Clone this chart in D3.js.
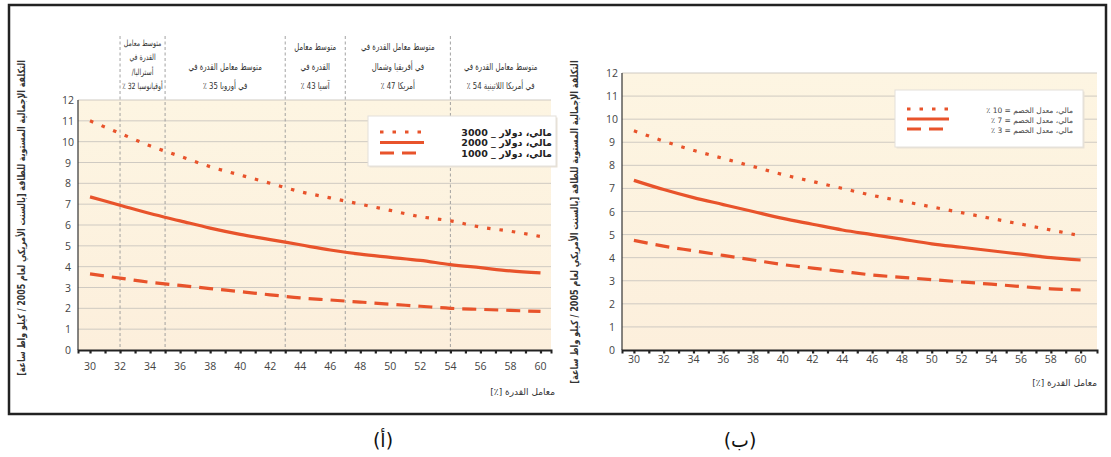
<!DOCTYPE html>
<html><head><meta charset="utf-8">
<script src="https://cdn.jsdelivr.net/npm/d3@7"></script>
<style>
html,body{margin:0;padding:0;background:#fff;}
svg{display:block;font-family:"DejaVu Sans",sans-serif;}
</style></head>
<body><svg id="c" width="1111" height="457"></svg>
<script>
// ---- data ----
const capacityFactors = [30,32,34,36,38,40,42,44,46,48,50,52,54,56,58,60];
// chart (أ): cost by capital cost
const leftSeriesNames = ["مالي، دولار _ 3000","مالي، دولار _ 2000","مالي، دولار _ 1000"];
const left3000 = [11.0,10.4,9.8,9.3,8.8,8.4,8.0,7.6,7.3,7.0,6.7,6.4,6.2,5.9,5.7,5.45];
const left2000 = [7.35,6.95,6.55,6.2,5.85,5.55,5.3,5.05,4.8,4.6,4.45,4.3,4.1,3.95,3.8,3.7];
const left1000 = [3.65,3.45,3.25,3.1,2.95,2.8,2.65,2.5,2.4,2.3,2.2,2.1,2.0,1.95,1.9,1.85];
// chart (ب): cost by discount rate
const rightSeriesNames = ["مالي، معدل الخصم = 10 ٪","مالي، معدل الخصم = 7 ٪","مالي، معدل الخصم = 3 ٪"];
const right10 = [9.5,9.05,8.65,8.3,7.95,7.6,7.3,7.0,6.7,6.45,6.2,5.95,5.7,5.45,5.2,4.95];
const right7  = [7.35,6.95,6.6,6.3,6.0,5.7,5.45,5.2,5.0,4.8,4.6,4.45,4.3,4.15,4.0,3.9];
const right3  = [4.75,4.5,4.3,4.1,3.9,3.7,3.55,3.4,3.25,3.15,3.05,2.95,2.85,2.75,2.65,2.6];
// regional average capacity factors (chart أ)
const regionBounds = [32,35,43,47,54];
const regionLabels = [
  ["متوسط معامل","القدرة في","أستراليا/","أوقيانوسيا 32 ٪"],
  ["متوسط معامل القدرة في","في أوروبا 35 ٪"],
  ["متوسط معامل","القدرة في","آسيا 43 ٪"],
  ["متوسط معامل القدرة في","في أفريقيا وشمال","أمريكا 47 ٪"],
  ["متوسط معامل القدرة في","في أمريكا اللاتينية 54 ٪"]
];
const yTicks = [0,1,2,3,4,5,6,7,8,9,10,11,12];
const xLabelTicks = [30,32,34,36,38,40,42,44,46,48,50,52,54,56,58,60];
const yTitle = "التكلفة الإجمالية المستوية للطاقة [بالسنت الأمريكي لعام 2005 / كيلو واط ساعة]";
const xTitle = "معامل القدرة [٪]";
const panelLabels = ["(أ)","(ب)"];

const svg = d3.select("#c");
const RED = "#e8532b";

// outer frame
svg.append("rect").attr("x",9).attr("y",5).attr("width",1097).attr("height",409)
  .attr("fill","#fff").attr("stroke","#222").attr("stroke-width",2.5);

const defs = svg.append("defs");
const grad = defs.append("linearGradient").attr("id","bg").attr("x1",0).attr("y1",0).attr("x2",0).attr("y2",1);
grad.append("stop").attr("offset","0%").attr("stop-color","#fdf5e2");
grad.append("stop").attr("offset","100%").attr("stop-color","#fcefdc");

const styles = [
  {dash:"3.5,9", w:3.2},
  {dash:null, w:3.2},
  {dash:"14,8", w:3.2}
];

function drawChart(o){
  const g = svg.append("g");
  const x = d3.scaleLinear().domain(o.xDomain).range(o.xRange);
  const y = d3.scaleLinear().domain([0,12]).range(o.yRange);
  g.append("rect").attr("x",o.xRange[0]).attr("y",o.yRange[1])
    .attr("width",o.xRange[1]-o.xRange[0]).attr("height",o.yRange[0]-o.yRange[1])
    .attr("fill","url(#bg)");
  g.append("g").selectAll("line").data(yTicks.filter(d=>d>0)).join("line")
    .attr("x1",o.xRange[0]).attr("x2",o.xRange[1])
    .attr("y1",d=>y(d)).attr("y2",d=>y(d))
    .attr("stroke","#cfcac2").attr("stroke-width",1);
  if(o.regions){
    g.append("g").selectAll("line").data(regionBounds).join("line")
      .attr("x1",d=>x(d)).attr("x2",d=>x(d)).attr("y1",36).attr("y2",o.yRange[0])
      .attr("stroke","#999").attr("stroke-width",0.9).attr("stroke-dasharray","3,2.5");
    const bounds = regionBounds.concat([60.7]);
    regionLabels.forEach((lines,i)=>{
      const cx = (x(bounds[i])+x(bounds[i+1]))/2;
      const n = lines.length;
      const step = n>=4 ? 14.5 : 19.5;
      lines.forEach((t,j)=>{
        g.append("text")
          .attr("transform",`translate(${cx},${89-(n-1-j)*step}) scale(0.72,1)`)
          .attr("text-anchor","middle").attr("direction","rtl")
          .attr("font-size",n>=4?8.6:9.6).attr("fill","#333")
          .text(t);
      });
    });
  }
  // y axis
  g.append("line").attr("x1",o.xRange[0]).attr("x2",o.xRange[0])
    .attr("y1",o.yRange[1]).attr("y2",o.yRange[0]).attr("stroke","#333").attr("stroke-width",1.2);
  g.append("g").selectAll("text").data(yTicks).join("text")
    .attr("x",o.xRange[0]-10).attr("y",d=>y(d)+4)
    .attr("text-anchor","middle").attr("font-size",10.5).attr("fill","#444")
    .attr("font-family","Open Sans").text(d=>d);
  // x axis
  const xa = d3.axisBottom(x).tickValues(d3.range(30,61,1)).tickSize(3.5).tickFormat("");
  const ax = g.append("g").attr("transform",`translate(0,${o.yRange[0]})`).call(xa);
  ax.select(".domain").attr("stroke","#222").attr("stroke-width",2);
  ax.selectAll(".tick line").attr("stroke","#222").attr("stroke-width",2.2);
  g.append("g").selectAll("text").data(xLabelTicks).join("text")
    .attr("x",d=>x(d)).attr("y",o.xLabelY)
    .attr("text-anchor","middle").attr("font-size",10.5).attr("fill","#444")
    .attr("font-family","Open Sans").text(d=>d);
  // x title
  g.append("text").attr("x",o.xTitlePos[0]).attr("y",o.xTitlePos[1])
    .attr("text-anchor","start").attr("direction","rtl").attr("font-size",9).attr("fill","#333")
    .text(xTitle);
  // y title (scaled along its length to fit)
  const yt = g.append("text")
    .attr("text-anchor","middle").attr("direction","rtl").attr("font-size",10)
    .attr("font-weight","bold").attr("fill","#333")
    .text(yTitle);
  const len = yt.node().getComputedTextLength();
  const s = Math.min(1, o.yTitleLen/len);
  yt.attr("transform",`translate(${o.yTitlePos[0]},${o.yTitlePos[1]}) rotate(-90) scale(${s},1)`);
  // lines
  const line = d3.line().x((d,i)=>x(capacityFactors[i])).y(d=>y(d)).curve(d3.curveMonotoneX);
  o.series.forEach((sr,i)=>{
    g.append("path").datum(sr).attr("d",line).attr("fill","none")
      .attr("stroke",RED).attr("stroke-width",styles[i].w)
      .attr("stroke-dasharray",styles[i].dash);
  });
  // legend
  const L = o.legend;
  g.append("rect").attr("x",L.x+1.5).attr("y",L.y+1.5).attr("width",L.w).attr("height",L.h)
    .attr("fill","#e9e2d6");
  g.append("rect").attr("x",L.x).attr("y",L.y).attr("width",L.w).attr("height",L.h)
    .attr("fill","#fff").attr("stroke","#e4e0da").attr("stroke-width",1);
  o.names.forEach((n,i)=>{
    const ly = L.y + L.first + i*L.step;
    g.append("line").attr("x1",L.x+L.lx0).attr("x2",L.x+L.lx1).attr("y1",ly).attr("y2",ly)
      .attr("stroke",RED).attr("stroke-width",styles[i].w).attr("stroke-dasharray",styles[i].dash);
    g.append("text").attr("x",L.x+L.w-L.tr).attr("y",ly+3.5).attr("text-anchor","start")
      .attr("direction","rtl").attr("font-size",L.fs).attr("font-weight",L.fw).attr("fill",L.fc)
      .text(n);
  });
}

drawChart({
  xDomain:[29.2,60.7], xRange:[78,551], yRange:[350,100], xLabelY:370,
  regions:true, series:[left3000,left2000,left1000], names:leftSeriesNames,
  xTitlePos:[555,395], yTitlePos:[25,218], yTitleLen:316,
  legend:{x:368,y:116,w:188,h:50,first:16,step:10.5,lx0:12,lx1:56,tr:4,fs:9.5,fw:"bold",fc:"#222"}
});
drawChart({
  xDomain:[29.2,61.1], xRange:[622,1097], yRange:[350,73], xLabelY:363,
  regions:false, series:[right10,right7,right3], names:rightSeriesNames,
  xTitlePos:[1097,386], yTitlePos:[578,222], yTitleLen:324,
  legend:{x:895,y:90,w:188,h:57,first:19,step:10,lx0:12,lx1:54,tr:10,fs:7.5,fw:"normal",fc:"#444"}
});

svg.append("text").attr("x",383).attr("y",447).attr("text-anchor","middle").attr("font-size",19).attr("fill","#111").text(panelLabels[0]);
svg.append("text").attr("x",740).attr("y",447).attr("text-anchor","middle").attr("font-size",19).attr("fill","#111").text(panelLabels[1]);
</script></body></html>
